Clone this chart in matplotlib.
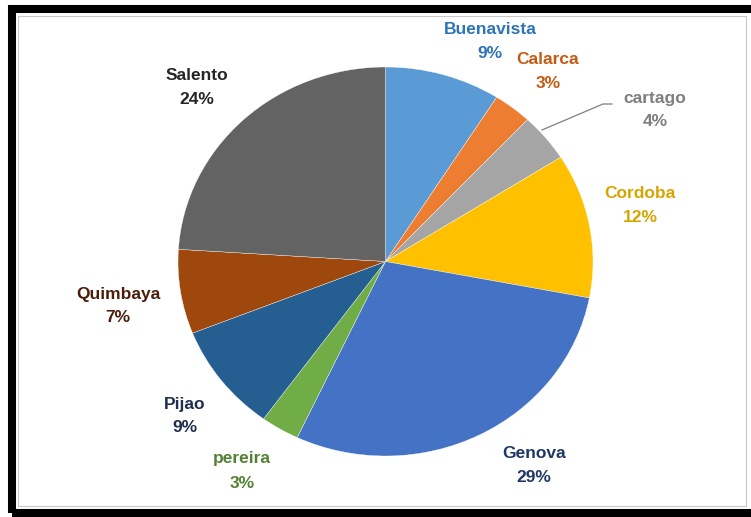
import matplotlib as mpl
mpl.use('Agg')
import matplotlib.pyplot as plt
from matplotlib.patches import Rectangle

# data
places = ['Buenavista', 'Calarca', 'cartago', 'Cordoba', 'Genova',
          'pereira', 'Pijao', 'Quimbaya', 'Salento']
shares = [9, 3, 4, 12, 29, 3, 9, 7, 24]

slice_colors = ['#5B9BD5', '#ED7D31', '#A5A5A5', '#FFC000', '#4472C4',
                '#70AD47', '#255E91', '#9E480E', '#636363']
label_colors = ['#2E75B6', '#C55A11', '#7F7F7F', '#D9A300', '#203864',
                '#548235', '#1F2D4F', '#4B1E0C', '#262626']

# label centres in figure pixels (x, y from top)
label_pos = [(490, 42), (548, 72), (655, 110), (640, 205), (534, 465),
             (242, 471), (185, 416), (118, 306), (197, 88)]

W, H = 751, 517
fig = plt.figure(figsize=(W / 100, H / 100), dpi=100)
fig.patch.set_facecolor('white')

# pie slightly squashed like the original (415 x 389 px)
ax = fig.add_axes([178 / W, (H - 456) / H, 415 / W, 389 / H])
wedges, _ = ax.pie(shares, colors=slice_colors, startangle=90, counterclock=False,
                   radius=1, wedgeprops=dict(edgecolor='white', linewidth=0.25))
ax.set_aspect('auto')
ax.set_xlim(-1, 1)
ax.set_ylim(-1, 1)
ax.axis('off')

for name, val, (px, py), c in zip(places, shares, label_pos, label_colors):
    fig.text(px / W, 1 - py / H, f'{name}\n{val}%', ha='center', va='center',
             fontsize=12.5, fontweight='bold', color=c, linespacing=1.75,
             family='Liberation Sans')

# leader line for cartago
fig.add_artist(plt.Line2D([542 / W, 603 / W, 612 / W],
                          [1 - 130 / H, 1 - 104 / H, 1 - 104 / H],
                          color='#7F7F7F', linewidth=0.9))

# black frame around the picture (right side is cut off in the original)
fig.add_artist(Rectangle((12 / W, 1 - 513 / H), 760 / W, 504 / H,
                         transform=fig.transFigure, fill=False,
                         edgecolor='black', linewidth=5.8))
fig.add_artist(Rectangle((17.5 / W, 1 - 506 / H), 728.5 / W, 490.5 / H,
                         transform=fig.transFigure, fill=False,
                         edgecolor='#C8C8C8', linewidth=0.8))

fig.savefig('out.png', dpi=100)
